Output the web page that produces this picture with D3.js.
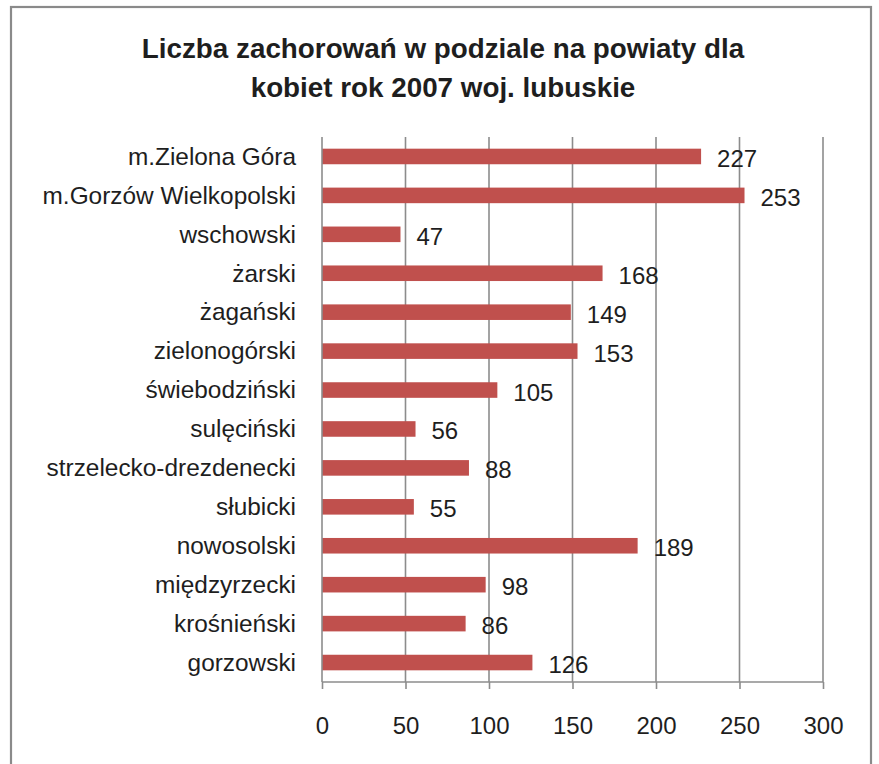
<!DOCTYPE html>
<html>
<head>
<meta charset="utf-8">
<script src="https://cdn.jsdelivr.net/npm/d3@7/dist/d3.min.js"></script>
<style>
  html, body { margin: 0; padding: 0; background: #fff; }
  svg { display: block; }
  text { font-family: "Liberation Sans", Arial, sans-serif; fill: #1e1e1e; }
</style>
</head>
<body>
<script>
const titleLines = ["Liczba zachorowań w podziale na powiaty dla", "kobiet rok 2007 woj. lubuskie"];
const categories = [
  "m.Zielona Góra", "m.Gorzów Wielkopolski", "wschowski", "żarski", "żagański",
  "zielonogórski", "świebodziński", "sulęciński", "strzelecko-drezdenecki",
  "słubicki", "nowosolski", "międzyrzecki", "krośnieński", "gorzowski"
];
const values = [227, 253, 47, 168, 149, 153, 105, 56, 88, 55, 189, 98, 86, 126];
const xTicks = [0, 50, 100, 150, 200, 250, 300];

const W = 879, H = 764;
const plot = { left: 322, right: 823, top: 137, bottom: 682 };

const svg = d3.select("body").append("svg").attr("width", W).attr("height", H);

// chart border
svg.append("rect")
  .attr("x", 11).attr("y", 7)
  .attr("width", 860).attr("height", 780)
  .attr("fill", "#fff").attr("stroke", "#8a8a8a").attr("stroke-width", 2.2);

// title
svg.append("g").selectAll("text").data(titleLines).join("text")
  .attr("x", 443).attr("y", (d, i) => 58 + i * 39)
  .attr("text-anchor", "middle")
  .attr("font-size", 27.8).attr("font-weight", "bold")
  .text(d => d);

const x = d3.scaleLinear().domain([0, 300]).range([plot.left, plot.right]);
const y = d3.scaleBand().domain(categories).range([plot.top, plot.bottom])
  .paddingInner(0.6).paddingOuter(0.3);

// gridlines
svg.append("g").selectAll("line").data(xTicks.slice(1)).join("line")
  .attr("x1", d => x(d)).attr("x2", d => x(d))
  .attr("y1", plot.top).attr("y2", plot.bottom)
  .attr("stroke", "#8c8c8c").attr("stroke-width", 1.6);

// bars
svg.append("g").selectAll("rect").data(values).join("rect")
  .attr("x", x(0))
  .attr("y", (d, i) => y(categories[i]))
  .attr("width", d => x(d) - x(0))
  .attr("height", y.bandwidth())
  .attr("fill", "#c0504d");

// category axis line
svg.append("line")
  .attr("x1", plot.left).attr("x2", plot.left)
  .attr("y1", plot.top).attr("y2", plot.bottom)
  .attr("stroke", "#8c8c8c").attr("stroke-width", 1.6);

// x axis
const xAxis = d3.axisBottom(x).tickValues(xTicks).tickSize(7).tickPadding(0).tickFormat(d3.format("d"));
const gx = svg.append("g").attr("transform", `translate(0,${plot.bottom})`).call(xAxis);
gx.select(".domain").attr("stroke", "#8c8c8c").attr("stroke-width", 1.6).attr("d", `M${plot.left},0H${plot.right}`);
gx.selectAll(".tick line").attr("stroke", "#8c8c8c").attr("stroke-width", 1.6);
gx.selectAll(".tick text")
  .attr("font-family", "Liberation Sans, Arial, sans-serif")
  .attr("font-size", 24).attr("fill", "#1e1e1e")
  .attr("y", 52).attr("dy", 0);

// category labels
svg.append("g").selectAll("text").data(categories).join("text")
  .attr("x", 296)
  .attr("y", d => y(d) + y.bandwidth() / 2 + 8.3)
  .attr("text-anchor", "end")
  .attr("font-size", 24.4)
  .text(d => d);

// data labels
svg.append("g").selectAll("text").data(values).join("text")
  .attr("x", d => x(d) + 16)
  .attr("y", (d, i) => y(categories[i]) + y.bandwidth() / 2 + 10.5)
  .attr("font-size", 24)
  .text(d => d);
</script>
</body>
</html>
